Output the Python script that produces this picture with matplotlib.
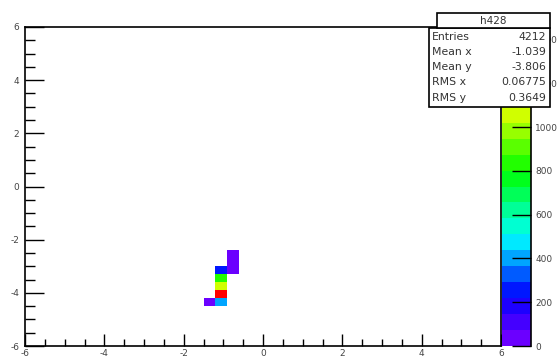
import numpy as np
import matplotlib
matplotlib.use("Agg")
import matplotlib.pyplot as plt
from matplotlib.colors import ListedColormap, BoundaryNorm, LinearSegmentedColormap
from matplotlib.patches import Rectangle

plt.rcParams["font.family"] = ["DejaVu Sans"]
plt.rcParams["axes.unicode_minus"] = False

# bin contents of h428 (bin centres, 0.3 wide bins on [-6, 6])
x_centers = [-1.05, -1.05, -1.05, -1.05, -1.05, -1.35, -0.75, -0.75, -0.75]
y_centers = [-3.15, -3.45, -3.75, -4.05, -4.35, -4.35, -3.15, -2.85, -2.55]
counts = [230, 820, 1060, 1450, 432, 33, 70, 62, 55]

stat_names = ["Entries", "Mean x", "Mean y", "RMS x", "RMS y"]
stat_values = ["4212", "-1.039", "-3.806", "0.06775", "0.3649"]
hist_name = "h428"

ticks_xy = [-6, -4, -2, 0, 2, 4, 6]
ticks_z = [0, 200, 400, 600, 800, 1000, 1200, 1400]
zmax = 1458
ncont = 20

edges = np.linspace(-6, 6, 41)
H, _, _ = np.histogram2d(x_centers, y_centers, bins=[edges, edges], weights=counts)
H = np.ma.masked_equal(H.T, 0)

# old ROOT "pretty" palette, violet -> blue -> cyan -> green -> yellow -> red
base = LinearSegmentedColormap.from_list(
    "pretty",
    [(0.0, (0.42, 0.0, 1.0)), (0.14, (0.0, 0.0, 1.0)), (0.33, (0.0, 1.0, 1.0)),
     (0.55, (0.0, 1.0, 0.0)), (0.78, (1.0, 1.0, 0.0)), (1.0, (1.0, 0.0, 0.0))])
cmap = ListedColormap(base(np.linspace(0, 1, ncont)))
levels = np.linspace(0, zmax, ncont + 1)
norm = BoundaryNorm(levels, cmap.N)

W, Ht = 558, 359
fig = plt.figure(figsize=(W / 100, Ht / 100), dpi=100)
ax = fig.add_axes([25 / W, 1 - 346 / Ht, (501 - 25) / W, (346 - 27) / Ht])
mesh = ax.pcolormesh(edges, edges, H, cmap=cmap, norm=norm)
ax.set_xlim(-6, 6)
ax.set_ylim(-6, 6)
ax.set_xticks(ticks_xy)
ax.set_yticks(ticks_xy)
ax.set_xticks(np.arange(-6, 6.01, 0.5), minor=True)
ax.set_yticks(np.arange(-6, 6.01, 0.5), minor=True)
ax.tick_params(axis="x", which="major", direction="in", length=9, width=1, labelsize=6.5, pad=2,
               top=False, labelcolor="#444444")
ax.tick_params(axis="x", which="minor", direction="in", length=5, width=1, top=False)
ax.tick_params(axis="y", which="major", direction="in", length=14, width=1, labelsize=6.5, pad=4,
               right=False, labelcolor="#444444")
ax.tick_params(axis="y", which="minor", direction="in", length=7, width=1, right=False)
for s in ax.spines.values():
    s.set_linewidth(1.2)

cax = fig.add_axes([502 / W, 1 - 346 / Ht, (531 - 502) / W, (346 - 27) / Ht])
cb = fig.colorbar(mesh, cax=cax, boundaries=levels)
cb.outline.set_visible(False)
cax.spines["right"].set_visible(True)
cax.spines["right"].set_linewidth(1.2)
cb.set_ticks(ticks_z)
cax.tick_params(axis="y", direction="in", length=14, width=1, labelsize=6.5, pad=3,
                labelcolor="#444444")
cax.minorticks_off()

# stats box
def px(x, y):
    return x / W, 1 - y / Ht

x0, y0 = px(429, 107)
fig.add_artist(Rectangle((x0, y0), 121 / W, 79 / Ht, facecolor="white", edgecolor="black",
                         linewidth=1.2, transform=fig.transFigure, zorder=6))
tx, ty = px(437, 28)
fig.add_artist(Rectangle((tx, ty), 113 / W, 15 / Ht, facecolor="white", edgecolor="black",
                         linewidth=1.2, transform=fig.transFigure, zorder=6))
fig.text(493 / W, 1 - 20.5 / Ht, hist_name, ha="center", va="center", fontsize=7.5,
         color="#333333", zorder=7)
row_y = [37, 52, 67, 82, 98]
for name, val, yy in zip(stat_names, stat_values, row_y):
    fig.text(432 / W, 1 - yy / Ht, name, ha="left", va="center", fontsize=7.8,
             color="#333333", zorder=7)
    fig.text(546 / W, 1 - yy / Ht, val, ha="right", va="center", fontsize=7.8,
             color="#333333", zorder=7)

fig.savefig("out.png", dpi=100)
